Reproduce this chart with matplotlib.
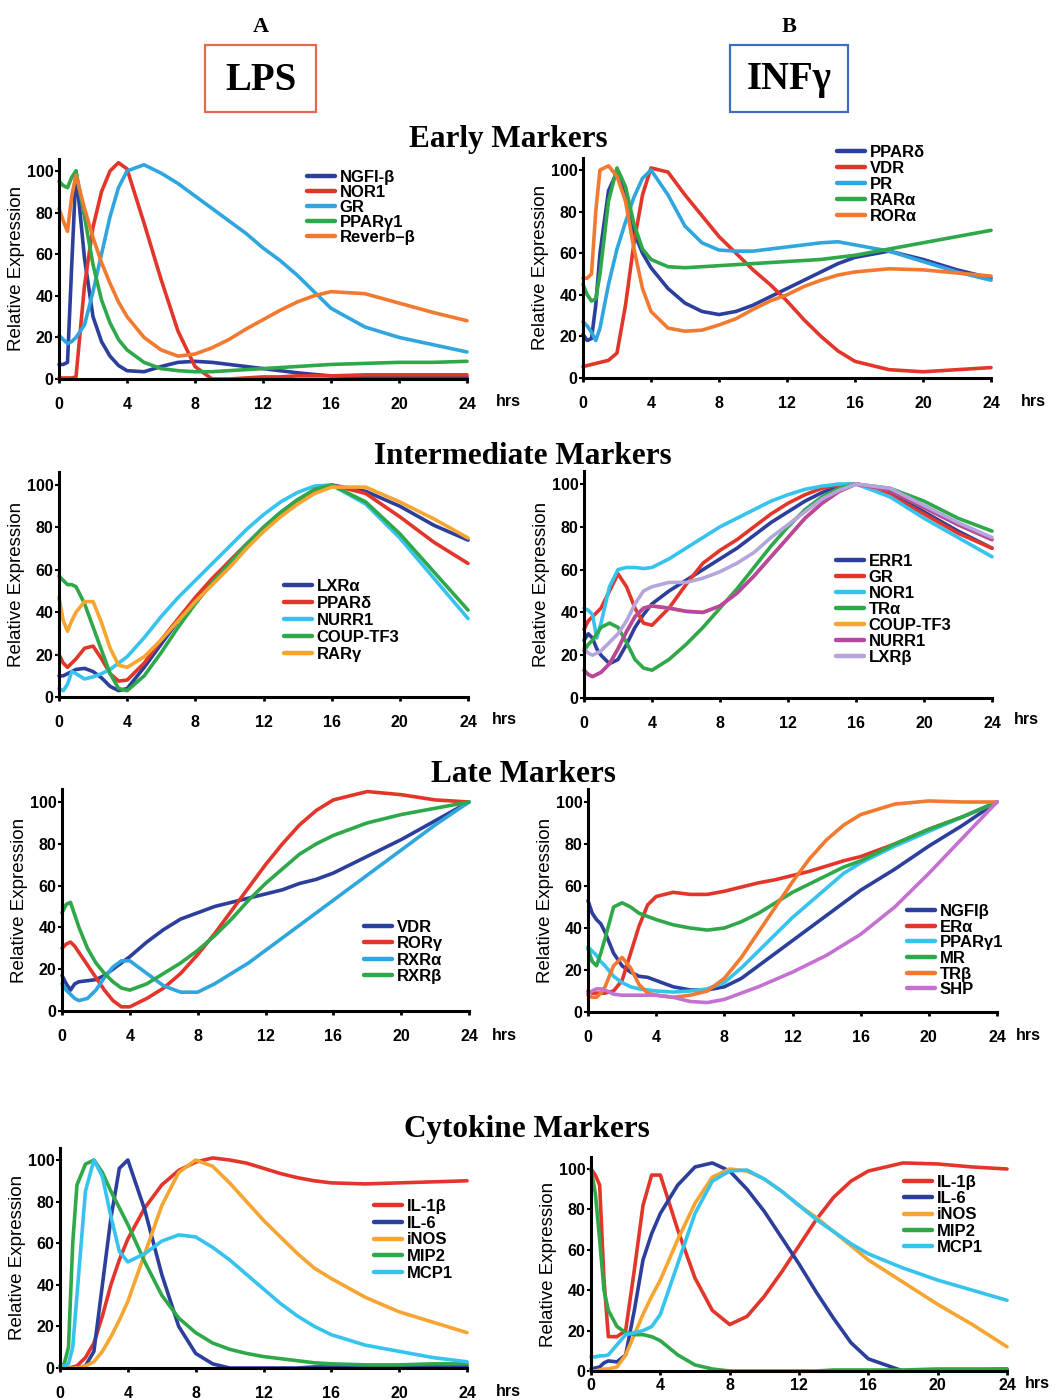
import matplotlib
matplotlib.use("Agg")
import matplotlib.pyplot as plt
from matplotlib.patches import Rectangle

plt.rcParams['font.family'] = ['Liberation Sans', 'DejaVu Sans']
plt.rcParams['font.weight'] = 'bold'

# sampling times (hours), shared by every curve
hours = [0, 0.25, 0.5, 0.75, 1, 1.5, 2, 2.5, 3, 3.5, 4, 5, 6, 7, 8, 9, 10,
         11, 12, 13, 14, 15, 16, 18, 20, 22, 24]
x_ticks = [0, 4, 8, 12, 16, 20, 24]
y_ticks = [0, 20, 40, 60, 80, 100]

# ---- Early markers, LPS
lps_early_ngfib = [7, 7, 8, 55, 100, 58, 30, 18, 11, 6.5, 4, 3.5, 6, 8, 8.5, 8, 7, 6, 5, 4, 3, 2.2, 1.5, 1, 1, 1, 1]
lps_early_nor1 = [0.5, 0.5, 0.5, 0.5, 1, 45, 73, 90, 100, 104, 101, 75, 48, 23, 6, 0, 0, 0.5, 1, 1, 1.5, 1.5, 1.5, 2, 2, 2, 2]
lps_early_gr = [21, 19, 17, 18, 20, 26, 42, 60, 78, 92, 100, 103, 99, 94, 88, 82, 76, 70, 63, 57, 50, 42, 34, 25, 20, 16.5, 13]
lps_early_pparg1 = [95, 93, 92, 97, 100, 78, 55, 38, 27, 19, 14, 8, 5, 4, 3.5, 3.5, 4, 4.5, 5, 5.5, 6, 6.5, 7, 7.5, 8, 8, 8.5]
lps_early_reverb = [82, 76, 71, 88, 98, 82, 68, 56, 46, 37, 30, 20, 14, 11, 12, 15, 19, 24, 28.5, 33, 37, 40, 42, 41, 36.5, 32, 28]

# ---- Early markers, INFg
inf_early_ppard = [21, 18, 19, 35, 60, 90, 99, 88, 70, 60, 53, 43, 36, 32, 30.5, 32, 35, 39, 43, 47, 51, 55, 58, 61, 57, 52, 48]
inf_early_vdr = [5.5, 6, 6.5, 7, 7.5, 8.5, 12, 35, 65, 88, 101, 99, 88, 78, 68, 60, 52, 45, 37, 28, 20, 13, 8, 4, 3, 4, 5]
inf_early_pr = [27, 25, 22, 18, 24, 45, 62, 75, 87, 96, 100, 88, 73, 65, 61.5, 61, 61, 62, 63, 64, 65, 65.5, 64, 61, 56, 51, 47]
inf_early_rara = [45, 40, 37, 38, 50, 85, 101, 92, 74, 62, 57, 53.5, 53, 53.5, 54, 54.5, 55, 55.5, 56, 56.5, 57, 58, 59, 62, 65, 68, 71]
inf_early_rora = [48, 48, 50, 80, 100, 102, 97, 85, 62, 43, 32, 24, 22.5, 23, 25.5, 28.5, 33, 37, 40, 44, 47, 49.5, 51, 52.5, 52, 50.5, 49]

# ---- Intermediate markers, LPS
lps_mid_lxra = [10, 10, 11, 12, 13, 13.5, 12, 9, 5, 3, 4, 14, 25, 36, 46, 55, 64, 72, 80, 87, 93, 97.5, 100, 97, 90, 81, 74]
lps_mid_ppard = [20, 16, 14, 16, 18, 23, 24, 18, 11, 7.5, 8, 16, 27, 37, 47, 56, 64, 72, 79, 86, 92, 97, 100, 96, 85, 73, 63]
lps_mid_nurr1 = [4, 3, 6, 12, 11, 8.5, 9.5, 11, 13, 16, 19, 28, 38, 47, 55, 63, 71, 79, 86, 92, 96.5, 99.5, 100, 91, 75, 56, 37]
lps_mid_coup = [57, 55, 53, 53, 52, 44, 33, 22, 11, 4, 3, 10, 21, 33, 44, 54, 63, 72, 80, 87, 93, 98, 100, 92, 77, 59, 41]
lps_mid_rarg = [47, 36, 31, 36, 40, 45, 45, 35, 23, 15, 14, 19, 27, 36, 45, 53, 61, 70, 78, 85, 91, 96, 99, 99, 92, 84, 75]

# ---- Intermediate markers, INFg
inf_mid_err1 = [27, 30, 28, 23, 20, 16, 18, 25, 33, 39, 44, 50, 55, 60, 65, 70, 76, 82, 87, 92, 96, 99, 100, 96, 87, 78, 70]
inf_mid_gr = [32, 36, 38, 40, 42, 50, 58, 52, 42, 35, 34, 42, 53, 63, 69, 74, 80, 86, 91, 95, 98, 99.5, 100, 95, 86, 77, 70]
inf_mid_nor1 = [42, 41, 39, 28, 35, 52, 60, 61, 61, 60.5, 61, 65, 70, 75, 80, 84, 88, 92, 95, 97.5, 99, 100, 100, 94, 84, 75, 66]
inf_mid_tra = [22, 25, 27, 30, 33, 35, 33, 26, 18, 14, 13, 18, 25, 33, 42, 51, 61, 71, 80, 88, 94, 98, 100, 98, 92, 84, 78]
inf_mid_coup = [13, 11, 10, 11, 12, 16, 23, 31, 38, 42, 43, 42, 40.5, 40, 43, 49, 57, 66, 75, 84, 91, 96.5, 100, 97, 89, 81, 74]
inf_mid_nurr1 = [13, 11, 10, 11, 12, 16, 23, 31, 38, 42, 43, 42, 40.5, 40, 43, 49, 57, 66, 75, 84, 91, 96.5, 100, 97, 89, 81, 74]
inf_mid_lxrb = [23, 21, 20, 21, 22, 26, 30, 36, 44, 50, 52, 54, 54, 56, 59, 63, 68, 75, 81, 87, 93, 97, 100, 98, 90, 82, 75]

# ---- Late markers, LPS
lps_late_vdr = [17, 13, 10, 13, 14, 14.5, 15, 17, 20, 23, 26, 33, 39, 44, 47, 50, 52, 54, 56, 58, 61, 63, 66, 74, 82, 91, 100]
lps_late_rorg = [30, 32, 33, 31, 28, 22, 16, 10, 5, 2, 2, 6, 11, 18, 27, 37, 48, 59, 70, 80, 89, 96, 101, 105, 103.5, 101, 100]
lps_late_rxra = [13, 10, 8, 6, 5, 6, 10, 16, 21, 24, 24, 18, 12, 9, 9, 13, 18, 23, 29, 35, 41, 47, 53, 65, 77, 89, 100]
lps_late_rxrb = [47, 51, 52, 46, 40, 30, 23, 18, 14, 11, 10, 13, 18, 23, 29, 36, 44, 53, 61, 68, 75, 80, 84, 90, 94, 97, 100]

# ---- Late markers, INFg
inf_late_ngfib = [53, 47, 44, 42, 38, 28, 22, 19, 17, 16.5, 15, 12, 10.5, 10.5, 12, 16, 22, 28, 34, 40, 46, 52, 58, 68, 79, 89, 100]
inf_late_era = [10, 9, 9, 9, 9, 10, 15, 28, 41, 51, 55, 57, 56, 56, 57.5, 59.5, 61.5, 63, 65, 67, 69.5, 72, 74, 80, 87, 93, 100]
inf_late_pparg1 = [31, 29, 27, 24, 22, 17, 14, 12, 11, 10.5, 10, 9.5, 10, 11, 14, 21, 29, 37, 45, 52, 59, 66, 71, 79, 86, 93, 100]
inf_late_mr = [30, 24, 22, 28, 35, 50, 52, 50, 47, 45.5, 44, 41.5, 40, 39, 40, 43, 47, 52, 57, 61, 65, 69, 72, 80, 87, 93, 100]
inf_late_trb = [8, 7, 7, 9, 12, 22, 26, 21, 13, 9, 8, 7, 8, 10, 16, 26, 38, 50, 62, 73, 82, 89, 94, 99, 100.5, 100, 100]
inf_late_shp = [9, 10, 11, 11, 10.5, 8.5, 8, 8, 8, 8, 8, 7, 5, 4.5, 6, 9, 12, 15.5, 19, 23, 27, 32, 37, 50, 66, 83, 100]

# ---- Cytokine markers, LPS
lps_cyt_il1b = [1, 0.5, 0, 0.5, 1, 5, 12, 25, 40, 52, 62, 77, 88, 95, 99, 101, 100, 98.5, 96, 93.5, 91.5, 90, 89, 88.5, 89, 89.5, 90]
lps_cyt_il6 = [0, 0, 0, 0, 0, 1, 8, 40, 72, 96, 100, 76, 45, 20, 7, 2, 0, 0, 0, 0, 0, 0.5, 0.5, 0.5, 1, 1, 1]
lps_cyt_inos = [0, 0, 0, 0, 0, 1, 3, 8, 15, 23, 32, 55, 78, 94, 100, 97, 89, 80, 71, 63, 55, 48, 43, 34, 27, 22, 17]
lps_cyt_mip2 = [1, 2, 10, 60, 88, 98, 100, 94, 85, 77, 69, 51, 35, 24, 17, 12, 9, 7, 5.5, 4.5, 3.5, 2.5, 2, 1.5, 1.5, 2, 2]
lps_cyt_mcp1 = [1, 1, 2, 10, 35, 85, 100, 92, 73, 56, 51, 55, 61, 64, 63, 58, 52, 45, 38, 31, 25, 20, 16, 11, 8, 5, 3]

# ---- Cytokine markers, INFg
inf_cyt_il1b = [100, 97, 92, 45, 17, 17, 20, 50, 82, 97, 97, 70, 46, 30, 23, 27, 37, 49, 62, 75, 86, 94, 99, 103, 102.5, 101, 100]
inf_cyt_il6 = [1, 1.5, 2, 4, 5, 4.5, 8, 30, 55, 68, 78, 92, 101, 103, 99, 90, 79, 66, 53, 39, 26, 14, 6, 0, 0, 0.5, 1]
inf_cyt_inos = [0, 0, 0.5, 1, 1, 2, 8, 18, 28, 37, 45, 65, 83, 96, 100, 99, 95, 89, 82, 76, 69, 62, 55, 44, 33, 23, 12]
inf_cyt_mip2 = [100, 88, 65, 40, 30, 22, 19, 18, 18, 17, 15, 8, 3, 1, 0, 0, 0, 0, 0, 0, 0.5, 0.5, 0.5, 0.5, 1, 1, 1]
inf_cyt_mcp1 = [7, 7, 7.5, 7.5, 8, 13, 18, 19, 20, 22, 28, 53, 78, 94, 99, 99.5, 95, 89, 82, 75, 69, 63, 58, 51, 45, 40, 35]

# colours
navy = '#2c3f9c'
red = '#e3362b'
sky = '#2fa6de'
green = '#2fa84a'
orange = '#f27a30'
amber = '#f6a531'
cyan = '#36c3ee'
magenta = '#b8479f'
lavender = '#b4a6dc'
purple = '#c571d2'

W, H = 1060, 1400
fig = plt.figure(figsize=(W / 100, H / 100), dpi=100)


def panel(box, series, legend_xy, spacing, hrs_xy, xpad=10):
    left, right, y0, y100 = box
    top = y0 - (y0 - y100) * 1.06
    ax = fig.add_axes([left / W, 1 - y0 / H, (right - left) / W, (y0 - top) / H])
    for label, values, color in series:
        ax.plot(hours, values, color=color, lw=2.6, label=label,
                solid_capstyle='round', solid_joinstyle='round', clip_on=False)
    ax.set_xlim(0, 24)
    ax.set_ylim(0, 106)
    ax.set_xticks(x_ticks)
    ax.set_yticks(y_ticks)
    for s in ['top', 'right']:
        ax.spines[s].set_visible(False)
    for s in ['left', 'bottom']:
        ax.spines[s].set_linewidth(2.2)
    ax.tick_params(axis='x', direction='out', length=3, width=2, labelsize=11.5, pad=xpad)
    ax.tick_params(axis='y', direction='out', length=3, width=1.5, labelsize=11.5, pad=1)
    ax.set_ylabel('Relative Expression', fontsize=13.5, labelpad=1)
    hx, hy = hrs_xy
    fig.text(hx / W, 1 - hy / H, 'hrs', ha='center', va='center', fontsize=11.5)
    lx, ly = legend_xy
    leg = ax.legend(loc='upper left', bbox_to_anchor=(lx / W, 1 - ly / H),
                    bbox_transform=fig.transFigure, frameon=False, fontsize=12,
                    handlelength=1.7, handletextpad=0.25, labelspacing=spacing,
                    borderpad=0, borderaxespad=0)
    for h in leg.get_lines():
        h.set_linewidth(3.2)
    return ax


panel((59, 467, 379, 171),
      [('NGFI-β', lps_early_ngfib, navy), ('NOR1', lps_early_nor1, red),
       ('GR', lps_early_gr, sky), ('PPARγ1', lps_early_pparg1, green),
       ('Reverb–β', lps_early_reverb, orange)], (307, 170), 0.0, (508, 402))
panel((583, 991, 378, 170),
      [('PPARδ', inf_early_ppard, navy), ('VDR', inf_early_vdr, red),
       ('PR', inf_early_pr, sky), ('RARα', inf_early_rara, green),
       ('RORα', inf_early_rora, orange)], (837, 145), 0.06, (1033, 401))
panel((59, 468, 697, 485),
      [('LXRα', lps_mid_lxra, navy), ('PPARδ', lps_mid_ppard, red),
       ('NURR1', lps_mid_nurr1, cyan), ('COUP-TF3', lps_mid_coup, green),
       ('RARγ', lps_mid_rarg, amber)], (284, 579), 0.12, (504, 720))
panel((584, 992, 698, 484),
      [('ERR1', inf_mid_err1, navy), ('GR', inf_mid_gr, red),
       ('NOR1', inf_mid_nor1, cyan), ('TRα', inf_mid_tra, green),
       ('COUP-TF3', inf_mid_coup, amber), ('NURR1', inf_mid_nurr1, magenta),
       ('LXRβ', inf_mid_lxrb, lavender)], (836, 554), 0.06, (1026, 720))
panel((62, 469, 1011, 802),
      [('VDR', lps_late_vdr, navy), ('RORγ', lps_late_rorg, red),
       ('RXRα', lps_late_rxra, sky), ('RXRβ', lps_late_rxrb, green)],
      (364, 920), 0.08, (504, 1036))
panel((588, 997, 1012, 802),
      [('NGFIβ', inf_late_ngfib, navy), ('ERα', inf_late_era, red),
       ('PPARγ1', inf_late_pparg1, cyan), ('MR', inf_late_mr, green),
       ('TRβ', inf_late_trb, orange), ('SHP', inf_late_shp, purple)],
      (907, 904), 0.04, (1028, 1036))
panel((60, 467, 1368, 1160),
      [('IL-1β', lps_cyt_il1b, red), ('IL-6', lps_cyt_il6, navy),
       ('iNOS', lps_cyt_inos, amber), ('MIP2', lps_cyt_mip2, green),
       ('MCP1', lps_cyt_mcp1, cyan)], (374, 1199), 0.1, (508, 1391))
panel((591, 1007, 1371, 1169),
      [('IL-1β', inf_cyt_il1b, red), ('IL-6', inf_cyt_il6, navy),
       ('iNOS', inf_cyt_inos, amber), ('MIP2', inf_cyt_mip2, green),
       ('MCP1', inf_cyt_mcp1, cyan)], (904, 1175), 0.07, (1037, 1383), xpad=2)

serif = ['Liberation Serif', 'DejaVu Serif']
for txt, x, y in [('Early Markers', 508, 140), ('Intermediate Markers', 523, 456),
                  ('Late Markers', 523, 774), ('Cytokine Markers', 527, 1129)]:
    fig.text(x / W, 1 - y / H, txt, ha='center', va='center', family=serif,
             fontsize=22.5, weight='bold')

for letter, name, x0, x1, col in [('A', 'LPS', 205, 316, '#e8664f'),
                                   ('B', 'INFγ', 730, 848, '#3d6dbf')]:
    fig.text((x0 + x1) / 2 / W, 1 - 27 / H, letter, ha='center', va='center',
             family=serif, fontsize=16, weight='bold')
    fig.patches.append(Rectangle((x0 / W, 1 - 112 / H), (x1 - x0) / W, 67 / H,
                                 transform=fig.transFigure, fill=False,
                                 edgecolor=col, lw=1.6))
    fig.text((x0 + x1) / 2 / W, 1 - 80 / H, name, ha='center', va='center',
             family=serif, fontsize=28, weight='bold')

fig.savefig('out.png', dpi=100)
